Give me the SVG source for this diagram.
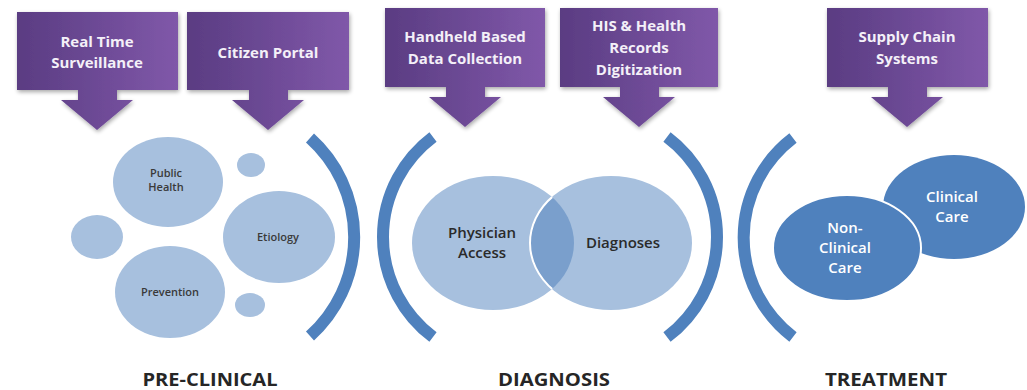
<svg xmlns="http://www.w3.org/2000/svg" width="1027" height="390" viewBox="0 0 1027 390">
<defs>
<linearGradient id="pg" x1="0" y1="0" x2="1" y2="0">
<stop offset="0" stop-color="#5a3c82"/>
<stop offset="1" stop-color="#8058a9"/>
</linearGradient>
<filter id="sh" x="-10%" y="-10%" width="125%" height="130%">
<feGaussianBlur in="SourceAlpha" stdDeviation="2"/>
<feOffset dx="1" dy="2" result="b"/>
<feComponentTransfer><feFuncA type="linear" slope="0.35"/></feComponentTransfer>
<feMerge><feMergeNode/><feMergeNode in="SourceGraphic"/></feMerge>
</filter>
<clipPath id="cpPhys"><ellipse cx="493" cy="243" rx="81" ry="67"/></clipPath>
</defs>
<style>
.callout{fill:url(#pg);filter:url(#sh)}
.ct{font-family:"Open Sans","Liberation Sans",sans-serif;font-weight:bold;font-size:15px;fill:#f4f0f8;text-anchor:middle}
.lc{fill:#a7c0de}
.st{font-family:"Open Sans","Liberation Sans",sans-serif;font-weight:600;font-size:11px;fill:#3a3a3a;text-anchor:middle}
.mt{font-family:"Open Sans","Liberation Sans",sans-serif;font-weight:600;font-size:15px;fill:#2a2a2a;text-anchor:middle}
.wt{font-family:"Open Sans","Liberation Sans",sans-serif;font-weight:600;font-size:15px;fill:#ffffff;text-anchor:middle}
.br{fill:none;stroke:#4f81bd;stroke-width:12}
.dc{fill:#4f81bd}
.lab{font-family:"Open Sans","Liberation Sans",sans-serif;font-weight:bold;font-size:18px;fill:#262626;text-anchor:middle}
</style>

<g id="callout-rts">
<path class="callout" d="M17,12 H178 V90 H117 V100 H133 L97,130 L61,100 H78 V90 H17 Z"/>
<text class="ct" x="97" y="47">Real Time</text>
<text class="ct" x="97" y="68">Surveillance</text>
</g>
<g id="callout-cp">
<path class="callout" d="M187,12 H349 V90 H288 V100 H304 L268,130 L232,100 H249 V90 H187 Z"/>
<text class="ct" x="268" y="58">Citizen Portal</text>
</g>
<g id="callout-hbdc">
<path class="callout" d="M385,8 H545 V87 H485 V97 H501 L465,127 L429,97 H446 V87 H385 Z"/>
<text class="ct" x="465" y="42">Handheld Based</text>
<text class="ct" x="465" y="64">Data Collection</text>
</g>
<g id="callout-his">
<path class="callout" d="M560,8 H718 V87 H659 V97 H675 L639,127 L603,97 H620 V87 H560 Z"/>
<text class="ct" x="639" y="31">HIS &amp; Health</text>
<text class="ct" x="639" y="53">Records</text>
<text class="ct" x="639" y="75">Digitization</text>
</g>
<g id="callout-scs">
<path class="callout" d="M827,8 H988 V87 H927 V97 H943 L907,127 L871,97 H888 V87 H827 Z"/>
<text class="ct" x="907" y="42">Supply Chain</text>
<text class="ct" x="907" y="64">Systems</text>
</g>

<g id="public-health">
<ellipse class="lc" cx="168" cy="182" rx="55" ry="45"/>
<text class="st" x="166" y="177">Public</text>
<text class="st" x="166" y="191">Health</text>
</g>
<g id="dot-top"><ellipse class="lc" cx="251" cy="165" rx="14" ry="12"/></g>
<g id="dot-left"><ellipse class="lc" cx="97" cy="237" rx="26" ry="22"/></g>
<g id="etiology">
<ellipse class="lc" cx="279" cy="237" rx="56" ry="46"/>
<text class="st" x="278" y="241">Etiology</text>
</g>
<g id="prevention">
<ellipse class="lc" cx="170" cy="292" rx="55" ry="46"/>
<text class="st" x="170" y="296">Prevention</text>
</g>
<g id="dot-bottom"><ellipse class="lc" cx="250" cy="305" rx="15" ry="12"/></g>

<g id="physician-access">
<ellipse class="lc" cx="493" cy="243" rx="81" ry="67"/>
</g>
<g id="diagnoses">
<ellipse class="lc" cx="611" cy="243" rx="81" ry="67"/>
<ellipse cx="611" cy="243" rx="81" ry="67" fill="#7a9fcc" clip-path="url(#cpPhys)"/>
<ellipse cx="611" cy="243" rx="81" ry="67" fill="none" stroke="#ffffff" stroke-width="2" clip-path="url(#cpPhys)"/>
<text class="mt" x="623" y="248">Diagnoses</text>
</g>
<g id="physician-label">
<text class="mt" x="482" y="238">Physician</text>
<text class="mt" x="482" y="258">Access</text>
</g>

<g id="clinical-care">
<ellipse class="dc" cx="954" cy="207" rx="71" ry="52"/>
<text class="wt" x="952" y="202">Clinical</text>
<text class="wt" x="952" y="222">Care</text>
</g>
<g id="non-clinical-care">
<ellipse class="dc" cx="847" cy="248" rx="74" ry="53" stroke="#ffffff" stroke-width="2"/>
<text class="wt" x="845" y="233">Non-</text>
<text class="wt" x="845" y="253">Clinical</text>
<text class="wt" x="845" y="273">Care</text>
</g>

<g id="brackets">
<path class="br" d="M310,138 A133,133 0 0 1 310,336"/>
<path class="br" d="M433,137 A125,125 0 0 0 433,337"/>
<path class="br" d="M667,137 A125,125 0 0 1 667,337"/>
<path class="br" d="M793,138 A125,125 0 0 0 793,337"/>
</g>

<g id="stage-labels">
<text class="lab" x="210" y="386" textLength="135" lengthAdjust="spacingAndGlyphs">PRE-CLINICAL</text>
<text class="lab" x="554" y="386" textLength="112" lengthAdjust="spacingAndGlyphs">DIAGNOSIS</text>
<text class="lab" x="886" y="386" textLength="122" lengthAdjust="spacingAndGlyphs">TREATMENT</text>
</g>
</svg>
